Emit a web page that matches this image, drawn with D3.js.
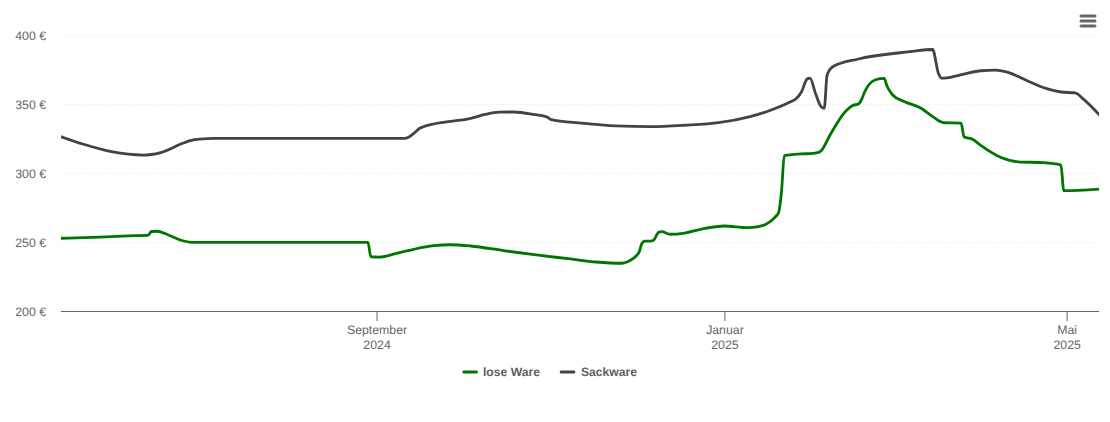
<!DOCTYPE html>
<html lang="en">

<head>
  <meta charset="utf-8">
  <title>Preisentwicklung</title>
  <script src="https://d3js.org/d3.v7.min.js"></script>
  <style>
    html, body {
      margin: 0;
      background: #fff;
    }

    text {
      font-family: "Liberation Sans", Arial, sans-serif;
      font-size: 12.3px;
      fill: #666;
      text-rendering: geometricPrecision;
    }

    .grid line {
      stroke: #e6e6e6;
      stroke-dasharray: 1 2;
    }

    .xaxis line {
      stroke: #666;
    }

    .legend text {
      font-size: 12.15px;
      font-weight: bold;
      fill: #606060;
    }

    .series {
      fill: none;
      stroke-width: 2.8;
      stroke-linejoin: round;
    }
  </style>
</head>

<body>
  <div id="chart"></div>

  <script>
    var looseDates = ["2024-05-13", "2024-05-27", "2024-06-06", "2024-06-13", "2024-06-14", "2024-06-16", "2024-06-20",
      "2024-06-25", "2024-06-28", "2024-07-01", "2024-08-29", "2024-08-30", "2024-09-02", "2024-09-08", "2024-09-14",
      "2024-09-21", "2024-09-27", "2024-10-04", "2024-10-16", "2024-10-27", "2024-11-08", "2024-11-17", "2024-11-26",
      "2024-11-28", "2024-12-02", "2024-12-03", "2024-12-04", "2024-12-06", "2024-12-07", "2024-12-09", "2024-12-10",
      "2024-12-13", "2024-12-18", "2024-12-24", "2025-01-01", "2025-01-09", "2025-01-13", "2025-01-17", "2025-01-19",
      "2025-01-20", "2025-01-21", "2025-01-22", "2025-01-28", "2025-02-01", "2025-02-03", "2025-02-04", "2025-02-07",
      "2025-02-10", "2025-02-12", "2025-02-14", "2025-02-15", "2025-02-17", "2025-02-18", "2025-02-19", "2025-02-20",
      "2025-02-23", "2025-02-26", "2025-02-27", "2025-03-01", "2025-03-05", "2025-03-11", "2025-03-15", "2025-03-19",
      "2025-03-25", "2025-03-26", "2025-03-29", "2025-04-01", "2025-04-08", "2025-04-14", "2025-04-23", "2025-04-29",
      "2025-04-30", "2025-05-13"];
    var looseValues = [252.7, 253.6, 254.4, 255, 257.6, 257.8, 255.1,
      250.9, 249.8, 249.7, 249.7, 239.3, 239.1, 241.8, 244.7,
      247.3, 248, 247.1, 243.6, 240.6, 237.7, 235.5, 234.6,
      235.7, 242.4, 248.6, 250.7, 250.7, 251.1, 257.2, 257.5,
      255.6, 256.5, 259.4, 261.6, 260.4, 261.1, 264.8, 268.5,
      271.4, 286.2, 312.6, 313.8, 314.2, 314.9, 316.3, 327.4,
      337.7, 343.5, 347.5, 348.9, 350, 352.9, 358, 362,
      367.6, 368.6, 363, 356.5, 351.8, 346.9, 340.9, 336.4,
      336.2, 326.3, 324.4, 319.8, 311.2, 308.1, 307.5, 305.8,
      287.2, 288.4];

    var sackDates = ["2024-05-13", "2024-05-21", "2024-05-31", "2024-06-06", "2024-06-11", "2024-06-14", "2024-06-17",
      "2024-06-21", "2024-06-24", "2024-06-28", "2024-07-01", "2024-07-06", "2024-08-31", "2024-09-11", "2024-09-12",
      "2024-09-14", "2024-09-16", "2024-09-17", "2024-09-21", "2024-10-04", "2024-10-09", "2024-10-14", "2024-10-19",
      "2024-10-26", "2024-10-31", "2024-11-01", "2024-11-12", "2024-11-24", "2024-12-06", "2024-12-18", "2024-12-30",
      "2025-01-10", "2025-01-16", "2025-01-24", "2025-01-26", "2025-01-28", "2025-01-30", "2025-01-31", "2025-02-02",
      "2025-02-04", "2025-02-05", "2025-02-06", "2025-02-08", "2025-02-17", "2025-03-07", "2025-03-15", "2025-03-17",
      "2025-03-18", "2025-03-20", "2025-03-26", "2025-04-01", "2025-04-06", "2025-04-11", "2025-04-17", "2025-04-24",
      "2025-04-29", "2025-05-04", "2025-05-07", "2025-05-13"];
    var sackValues = [326.6, 321, 315.5, 313.6, 313, 313.4, 314.6,
      317.8, 320.7, 323.7, 324.6, 325.1, 325.1, 325.1, 325.7,
      328.6, 332.2, 333.2, 335.5, 339.6, 342.4, 344.1, 344.2,
      342.5, 340.4, 338.9, 336.1, 334.1, 333.6, 334.6, 336.5,
      340.9, 344.6, 351.4, 353.6, 358.7, 368.1, 368.8, 357.2,
      347.8, 346.9, 371, 377, 382.6, 387.9, 389.5, 372.5,
      368.8, 369, 371.7, 374.1, 374.5, 372.5, 367, 361.1,
      358.7, 358, 353.3, 340.9];

    var yTicks = [200, 250, 300, 350, 400];
    var xTicks = ["2024-09-01", "2025-01-01", "2025-05-01"];
    var xTickMonths = ["September", "Januar", "Mai"];
    var xTickYears = ["2024", "2025", "2025"];
    var seriesNames = ["lose Ware", "Sackware"];
    var seriesColors = ["#007500", "#434343"];

    var width = 1110, height = 422;
    var margin = {top: 35, right: 11, bottom: 111, left: 61};
    var plotWidth = width - margin.left - margin.right;
    var parseDay = d3.utcParse("%Y-%m-%d");

    var svg = d3.select("#chart")
      .append("svg")
        .attr("width", width)
        .attr("height", height)
        .style("display", "block");

    // d3 axes add half a pixel to ticks, so the range starts one pixel left of the plot
    var x = d3.scaleUtc()
      .domain([parseDay("2024-05-13"), parseDay("2025-05-12")])
      .range([margin.left - 1, width - margin.right - 1]);

    var y = d3.scaleLinear()
      .domain([200, 400])
      .range([height - margin.bottom, margin.top]);

    svg.append("clipPath")
      .attr("id", "plot")
      .append("rect")
        .attr("x", margin.left)
        .attr("y", 0)
        .attr("width", plotWidth)
        .attr("height", height);

    // gridlines and euro labels
    var yAxis = svg.append("g")
      .attr("class", "grid")
      .attr("transform", "translate(" + margin.left + ",0)")
      .call(d3.axisLeft(y)
        .tickValues(yTicks)
        .tickSize(-plotWidth)
        .tickPadding(15)
        .tickFormat(function(d) { return d + " €"; }));
    yAxis.select(".domain").remove();
    yAxis.selectAll("text")
      .attr("x", -15)
      .attr("dy", "0.33em")
      .style("font-size", "12.3px")
      .style("font-family", null);

    var xAxis = svg.append("g")
      .attr("class", "xaxis")
      .attr("transform", "translate(0," + (height - margin.bottom) + ")")
      .call(d3.axisBottom(x)
        .tickValues(xTicks.map(parseDay))
        .tickSizeInner(10)
        .tickSizeOuter(0)
        .tickFormat(""));
    xAxis.select(".domain").remove();
    xAxis.append("line")
      .attr("x1", margin.left)
      .attr("x2", width - margin.right)
      .attr("y1", 0.5)
      .attr("y2", 0.5);

    var tickLabels = xAxis.selectAll(".tick").append("text")
      .attr("text-anchor", "middle")
      .style("font-size", "12.3px");
    tickLabels.append("tspan")
      .attr("x", 0)
      .attr("y", 23)
      .text(function(d, i) { return xTickMonths[i]; });
    tickLabels.append("tspan")
      .attr("x", 0)
      .attr("y", 38)
      .text(function(d, i) { return xTickYears[i]; });

    var line = d3.line()
      .x(function(d) { return x(d.date); })
      .y(function(d) { return y(d.value); })
      .curve(d3.curveMonotoneX);

    function toPoints(dates, values) {
      return dates.map(function(d, i) { return {date: parseDay(d), value: values[i]}; });
    }

    svg.append("path")
      .attr("class", "series")
      .attr("clip-path", "url(#plot)")
      .attr("stroke", seriesColors[0])
      .attr("d", line(toPoints(looseDates, looseValues)));

    svg.append("path")
      .attr("class", "series")
      .attr("clip-path", "url(#plot)")
      .attr("stroke", seriesColors[1])
      .attr("d", line(toPoints(sackDates, sackValues)));

    // legend
    var legendLineX = [463.8, 561.2];
    var legendTextX = [483, 581];
    var legend = svg.selectAll(".legend")
      .data(seriesNames)
      .enter()
      .append("g")
        .attr("class", "legend");
    legend.append("line")
      .attr("x1", function(d, i) { return legendLineX[i]; })
      .attr("x2", function(d, i) { return legendLineX[i] + 12.7; })
      .attr("y1", 372)
      .attr("y2", 372)
      .attr("stroke", function(d, i) { return seriesColors[i]; })
      .attr("stroke-width", 3)
      .attr("stroke-linecap", "round");
    legend.append("text")
      .attr("x", function(d, i) { return legendTextX[i]; })
      .attr("y", 376)
      .text(function(d) { return d; });

    // export menu icon
    svg.selectAll(".menu")
      .data([16, 21, 26])
      .enter()
      .append("line")
        .attr("class", "menu")
        .attr("x1", 1081)
        .attr("x2", 1095)
        .attr("y1", function(d) { return d; })
        .attr("y2", function(d) { return d; })
        .attr("stroke", "#666")
        .attr("stroke-width", 3)
        .attr("stroke-linecap", "round");
  </script>
</body>

</html>
